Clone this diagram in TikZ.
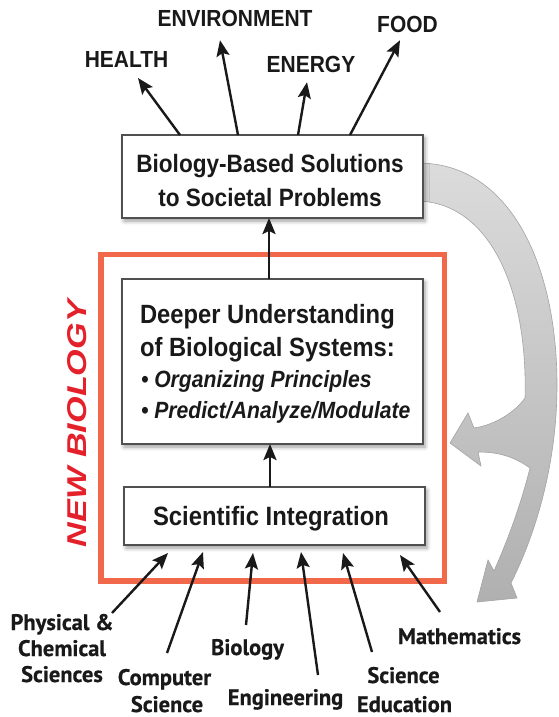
\documentclass[tikz,border=0pt]{standalone}
\usepackage{fontspec}
\setmainfont{Liberation Sans}
\newfontfamily\cnd[FakeStretch=0.9]{Liberation Sans}
\newfontfamily\ptb[FakeBold=0.6]{PT Sans}
\usepackage{graphicx}
\usetikzlibrary{arrows.meta,calc,shadows.blur}
\definecolor{nborange}{RGB}{241,104,75}
\definecolor{nbred}{RGB}{228,32,42}
\definecolor{boxline}{RGB}{80,80,80}
\definecolor{ink}{RGB}{25,25,25}
\begin{document}
\begin{tikzpicture}[x=1pt,y=-1pt,
  every node/.style={inner sep=0pt, outer sep=0pt},
  box/.style={draw=boxline, line width=1.2pt, fill=white, rectangle,
     blur shadow={shadow xshift=2pt, shadow yshift=-3pt, shadow blur radius=4pt, shadow opacity=40}},
  arr/.style={draw=ink, line width=2.4pt, -{Stealth[length=16pt,width=13pt,inset=3pt]}},
  toplab/.style={anchor=base, text=ink, font=\cnd\bfseries\fontsize{23.3}{28}\selectfont},
  boxtxt/.style={text=ink, font=\cnd\bfseries\fontsize{25.1}{30}\selectfont},
  midtxt/.style={anchor=base west, text=ink, font=\cnd\bfseries\fontsize{26.4}{30}\selectfont},
  midit/.style={anchor=base west, text=ink, font=\cnd\bfseries\itshape\fontsize{23.5}{28}\selectfont},
  botlab/.style={anchor=base, text=ink, font=\ptb\bfseries\fontsize{22.5}{26}\selectfont},
  band/.style={top color=gray!28, bottom color=gray!62, draw=gray!72, line width=0.6pt}
]
\useasboundingbox (0,0) rectangle (558,717);

% grey feedback arrow
\shade[band] (418,163) .. controls (510,163) and (557,265) .. (557,385)
 .. controls (557,455) and (540,525) .. (511,583)
 -- (517,598) -- (477,602) -- (488,560) -- (494,571)
 .. controls (510,535) and (522,500) .. (530,468)
 .. controls (512,455) and (495,452) .. (478,452)
 -- (481,466) -- (450,443) -- (468,413) -- (474,428)
 .. controls (495,425) and (515,412) .. (525,398)
 .. controls (528,290) and (490,203) .. (418,201) -- cycle;

% orange frame
\node[draw=nborange, line width=5.5pt, minimum width=343.5pt, minimum height=326.5pt] (nb) at (272.75,417.75) {};
\node[rotate=90, text=nbred] (newbio) at (77.5,423.5) {\resizebox{247pt}{19pt}{\bfseries\itshape NEW BIOLOGY}};

% boxes
\node[box, minimum width=301pt, minimum height=83pt] (sol) at (272.5,176.5) {};
\node[boxtxt, anchor=base] (sol1) at (270,172.7) {Biology-Based Solutions};
\node[boxtxt, anchor=base] (sol2) at (270,206) {to Societal Problems};

\node[box, minimum width=301pt, minimum height=165pt] (mid) at (272.5,361.5) {};
\node[midtxt] (mid1) at (140,323) {Deeper Understanding};
\node[midtxt] (mid2) at (140,356) {of Biological Systems:};
\node[midit] (mid3) at (141,387) {\textbullet\ Organizing Principles};
\node[midit] (mid4) at (141,418) {\textbullet\ Predict/Analyze/Modulate};

\node[box, minimum width=301pt, minimum height=58pt] (sci) at (274.5,516) {};
\node[boxtxt, anchor=base, font=\cnd\bfseries\fontsize{26.5}{30}\selectfont] (sci1) at (271,525.7) {Scientific Integration};

% top labels
\node[toplab] (health) at (126.5,67) {HEALTH};
\node[toplab] (env) at (235,27) {ENVIRONMENT};
\node[toplab] (energy) at (311,72) {ENERGY};
\node[toplab] (food) at (407.5,33) {FOOD};

% bottom labels
\node[botlab] (phys1) at (62,630) {Physical \&};
\node[botlab] (phys2) at (62,656) {Chemical};
\node[botlab] (phys3) at (62,682) {Sciences};
\node[botlab] (comp1) at (164.5,685) {Computer};
\node[botlab] (comp2) at (167,712) {Science};
\node[botlab] (bio) at (247.5,655) {Biology};
\node[botlab] (eng) at (285.5,705) {Engineering};
\node[botlab] (sed1) at (403.5,683) {Science};
\node[botlab] (sed2) at (404.5,712) {Education};
\node[botlab] (math) at (459.5,644) {Mathematics};

% arrows up to the outcomes
\draw[arr] ($(sol.north west)+(58,0)$) -- ($(health.south)+(11.5,11)$);
\draw[arr] ($(sol.north west)+(116,0)$) -- ($(env.south)+(-15,13)$);
\draw[arr] ($(sol.north west)+(176,0)$) -- ($(energy.south)+(-4,10)$);
\draw[arr] ($(sol.north west)+(228,0)$) -- ($(food.south)+(-7.5,7)$);

% central chain
\draw[arr] ([xshift=-3.5pt]mid.north) -- ([xshift=-3.5pt]sol.south);
\draw[arr] ([xshift=-4.5pt]sci.north) -- ([xshift=-2.5pt]mid.south);

% disciplines into integration
\draw[arr] ($(phys1.base)+(50,-17)$) -- ($(sci.south west)+(44,8)$);
\draw[arr] ($(comp1.base)+(2.5,-32)$) -- ($(sci.south west)+(79,7)$);
\draw[arr] ($(bio.base)+(-1.5,-30)$) -- ($(sci.south west)+(129,8)$);
\draw[arr] ($(eng.base)+(32.5,-30)$) -- ($(sci.south west)+(177,7)$);
\draw[arr] ($(sed1.base)+(-31.5,-31)$) -- ($(sci.south west)+(219,8)$);
\draw[arr] ($(math.base)+(-19.5,-32)$) -- ($(sci.south west)+(276,10)$);
\end{tikzpicture}
\end{document}
